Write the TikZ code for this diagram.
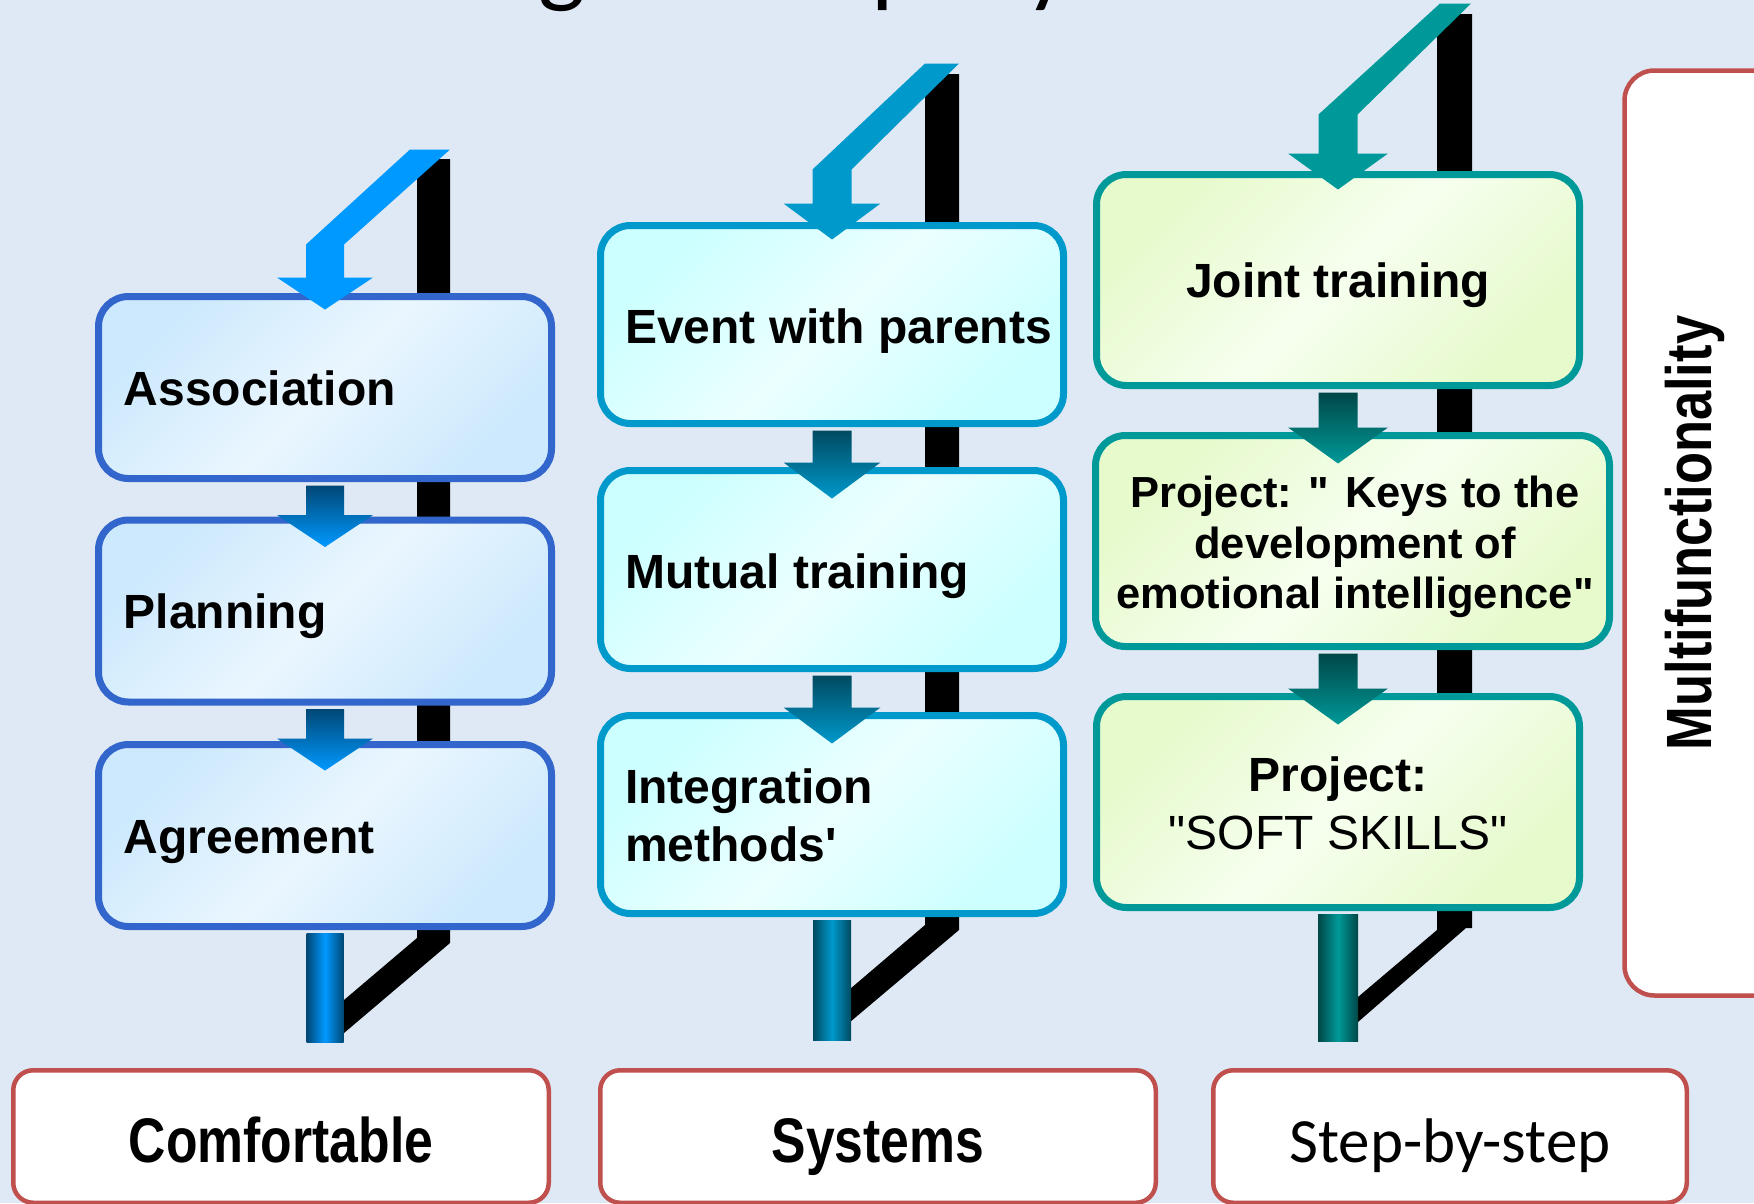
\documentclass[tikz,border=0pt]{standalone}
\usepackage{fontspec}
\setmainfont{Liberation Sans}
\newfontfamily\narrowfont[FakeStretch=0.82]{Liberation Sans}
\newfontfamily\calfont{Carlito}
\usetikzlibrary{calc}
\definecolor{bg}{HTML}{DFE9F5}
\definecolor{bdA}{HTML}{3366CC}
\definecolor{fillAa}{HTML}{CCE9FD}
\definecolor{fillAb}{HTML}{EAF6FE}
\definecolor{bdB}{HTML}{0099CC}
\definecolor{fillBa}{HTML}{CCFFFF}
\definecolor{fillBb}{HTML}{EBFFFF}
\definecolor{bdC}{HTML}{009999}
\definecolor{fillCa}{HTML}{E6FACC}
\definecolor{fillCb}{HTML}{F6FFEF}
\definecolor{arA}{HTML}{0099FF}
\definecolor{arAd}{HTML}{004775}
\definecolor{arB}{HTML}{0099CC}
\definecolor{arBd}{HTML}{004A60}
\definecolor{arC}{HTML}{009999}
\definecolor{arCd}{HTML}{004747}
\definecolor{redb}{HTML}{C0504D}
\newcommand\qq{\textquotedbl}
% #1 start coordinate, #2 stem length, #3 head length, #4 stem half width, #5 head half width, #6 style
\newcommand\DnArrow[6]{%
  \shade[#6] ($(#1)+(-#4,0)$) -- ++(0,#2) -- ++({#4-#5},0) -- ++(#5,#3)
    -- ++(#5,-#3) -- ++({#4-#5},0) -- ++(0,-#2) -- cycle;}
\begin{document}
\begin{tikzpicture}[x=1pt,y=-1pt,
  boxbase/.style={rectangle, rounded corners=30pt, line width=7pt, inner sep=0pt},
  boxA/.style={boxbase, draw=bdA, top color=fillAa, bottom color=fillAa, middle color=fillAb,
    shading angle=45, minimum width=453pt, minimum height=182pt},
  boxB/.style={boxbase, draw=bdB, top color=fillBa, bottom color=fillBa, middle color=fillBb,
    shading angle=45, minimum width=463pt, minimum height=198pt},
  boxC/.style={boxbase, draw=bdC, top color=fillCa, bottom color=fillCa, middle color=fillCb,
    shading angle=45, minimum width=483pt, minimum height=211pt},
  txt/.style={inner sep=0pt, font=\fontsize{48}{58}\selectfont\bfseries, text=black},
  redbox/.style={rectangle, draw=redb, line width=4.5pt, fill=white, rounded corners=20pt,
    minimum height=132.5pt, inner sep=0pt},
  labtxt/.style={inner sep=0pt, font=\narrowfont\fontsize{63}{70}\selectfont\bfseries},
  arrA/.style={top color=arAd, bottom color=arA},
  arrB/.style={top color=arBd, bottom color=arB},
  arrC/.style={top color=arCd, bottom color=arC},
  barA/.style={left color=arAd, right color=arAd, middle color=arA},
  barB/.style={left color=arBd, right color=arBd, middle color=arB},
  barC/.style={left color=arCd, right color=arCd, middle color=arC},
  shadowbar/.style={fill=black}
]
\useasboundingbox (0,0) rectangle (1754,1203);
\fill[bg] (0,0) rectangle (1754,1203);

% fragments of the cut-off title
\node[inner sep=0pt, anchor=base, font=\calfont\fontsize{100}{100}\selectfont] (tg) at (562,-6) {g};
\node[inner sep=0pt, anchor=base west, font=\calfont\fontsize{100}{100}\selectfont] (tp) at (871.5,-6) {p};
\node[inner sep=0pt, anchor=base west, font=\calfont\fontsize{100}{100}\selectfont] (ty) at (1025,-6) {y};

% black shadow bars
\fill[shadowbar] (417,159) -- (450,159) -- (450,943) -- (344,1033) -- (344,1000) -- (417,938) -- cycle;
\fill[shadowbar] (925,74) -- (959,74) -- (959,930) -- (850,1022) -- (850,989) -- (925,925) -- cycle;
\fill[shadowbar] (1437,14) -- (1472,14) -- (1472,928) -- (1466,928) -- (1358,1022) -- (1358,997) -- (1437,930) -- cycle;

% nodes (boxes)
\node[boxA] (assoc) at (325,387.5) {};
\node[boxA] (plan)  at (325,611) {};
\node[boxA] (agree) at (325,835.5) {};
\node[boxB] (event)  at (832,324.5) {};
\node[boxB] (mutual) at (832,569.5) {};
\node[boxB] (integ)  at (832,814.5) {};
\node[boxC] (joint) at (1338,280) {};
\node[boxC, minimum width=514pt] (keys) at (1352.5,541) {};
\node[boxC] (soft)  at (1338,802) {};

% bottom bars (behind box borders)
\shade[barA] ($(agree.south)+(-18.5,3.5)$) rectangle ($(agree.south)+(18.5,112.5)$);
\shade[barB] ($(integ.south)+(-19,3.5)$) rectangle ($(integ.south)+(19,123.5)$);
\shade[barC] ($(soft.south)+(-20,3.5)$) rectangle ($(soft.south)+(20,130.5)$);

% top arrows
\fill[arA] ($(assoc.north)+(0,16.5)$) -- ++(-48,-32) -- ++(29,0) -- ++(0,-33) -- ++(104,-95)
  -- ++(40,0) -- ++(-106,95) -- ++(0,33) -- ++(29,0) -- cycle;
\fill[arB] ($(event.north)+(0,17.5)$) -- ++(-48.5,-36) -- ++(29,0) -- ++(0,-34) -- ++(112.5,-106)
  -- ++(34,0) -- ++(-107.5,106) -- ++(0,34) -- ++(29,0) -- cycle;
\fill[arC] ($(joint.north)+(0,18.5)$) -- ++(-50,-36) -- ++(30.5,0) -- ++(0,-39) -- ++(121.5,-111)
  -- ++(31,0) -- ++(-113.5,111) -- ++(0,39) -- ++(30.5,0) -- cycle;

% arrows between boxes
\coordinate (sA1) at ($(assoc.south)+(0,3.5)$);
\coordinate (sA2) at ($(plan.south)+(0,3.5)$);
\coordinate (sB1) at ($(event.south)+(0,3.5)$);
\coordinate (sB2) at ($(mutual.south)+(0,3.5)$);
\coordinate (sC1) at ($(joint.south)+(0,3.5)$);
\coordinate (sC2) at ($(joint.south |- keys.south)+(0,3.5)$);
\DnArrow{sA1}{29.5}{32}{19}{48}{arrA}
\DnArrow{sA2}{29.5}{32}{19}{48}{arrA}
\DnArrow{sB1}{32}{36}{19.5}{48.5}{arrB}
\DnArrow{sB2}{32}{36}{19.5}{48.5}{arrB}
\DnArrow{sC1}{35}{36}{19.5}{50}{arrC}
\DnArrow{sC2}{35}{36}{19.5}{50}{arrC}

% texts in the boxes
\node[txt, anchor=base west] (tassoc) at ($(assoc.west)+(28.5,17.5)$) {Association};
\node[txt, anchor=base west] (tplan)  at ($(plan.west)+(28.5,17)$) {Planning};
\node[txt, anchor=base west] (tagree) at ($(agree.west)+(28.5,17.5)$) {Agreement};
\node[txt, anchor=base west] (tevent)  at ($(event.west)+(28,18.5)$) {Event with parents};
\node[txt, anchor=base west] (tmutual) at ($(mutual.west)+(28,18.5)$) {Mutual training};
\node[txt, anchor=north west, align=left] (tinteg) at ($(integ.west)+(28,-46)$) {Integration\\methods\textquotesingle};
\node[txt, anchor=base] (tjoint) at ($(joint.center)+(0,17)$) {Joint training};
\node[txt, anchor=north, align=center, font=\fontsize{43.5}{50.5}\selectfont\bfseries] (tkeys)
  at ($(keys.center)+(2.5,-65)$) {Project: \qq{} Keys to the\\development of\\emotional intelligence\qq};
\node[txt, anchor=north, align=center, font=\fontsize{48}{58}\selectfont] (tsoft)
  at ($(soft.center)+(0,-45.4)$) {\bfseries Project:\\\qq SOFT SKILLS\qq};

% right box
\node[redbox, minimum width=165.5pt, minimum height=925pt, rounded corners=30pt] (multi) at (1707.25,533) {};
\node[labtxt, rotate=90, font=\narrowfont\fontsize{64}{70}\selectfont\bfseries] (tmulti) at (1695,533) {Multifunctionality};

% bottom boxes
\node[redbox, minimum width=535.5pt] (comf) at (281,1136.5) {};
\node[redbox, minimum width=555.5pt] (syst) at (878,1136.5) {};
\node[redbox, minimum width=473.5pt] (stepb) at (1450,1136.5) {};
\node[labtxt, anchor=base] (tcomf) at ($(comf.center)+(0,25.5)$) {Comfortable};
\node[labtxt, anchor=base] (tsyst) at ($(syst.center)+(0,25.5)$) {Systems};
\node[inner sep=0pt, anchor=base, font=\calfont\fontsize{63}{70}\selectfont] (tstep) at ($(stepb.center)+(0,25.5)$) {Step-by-step};
\end{tikzpicture}
\end{document}
